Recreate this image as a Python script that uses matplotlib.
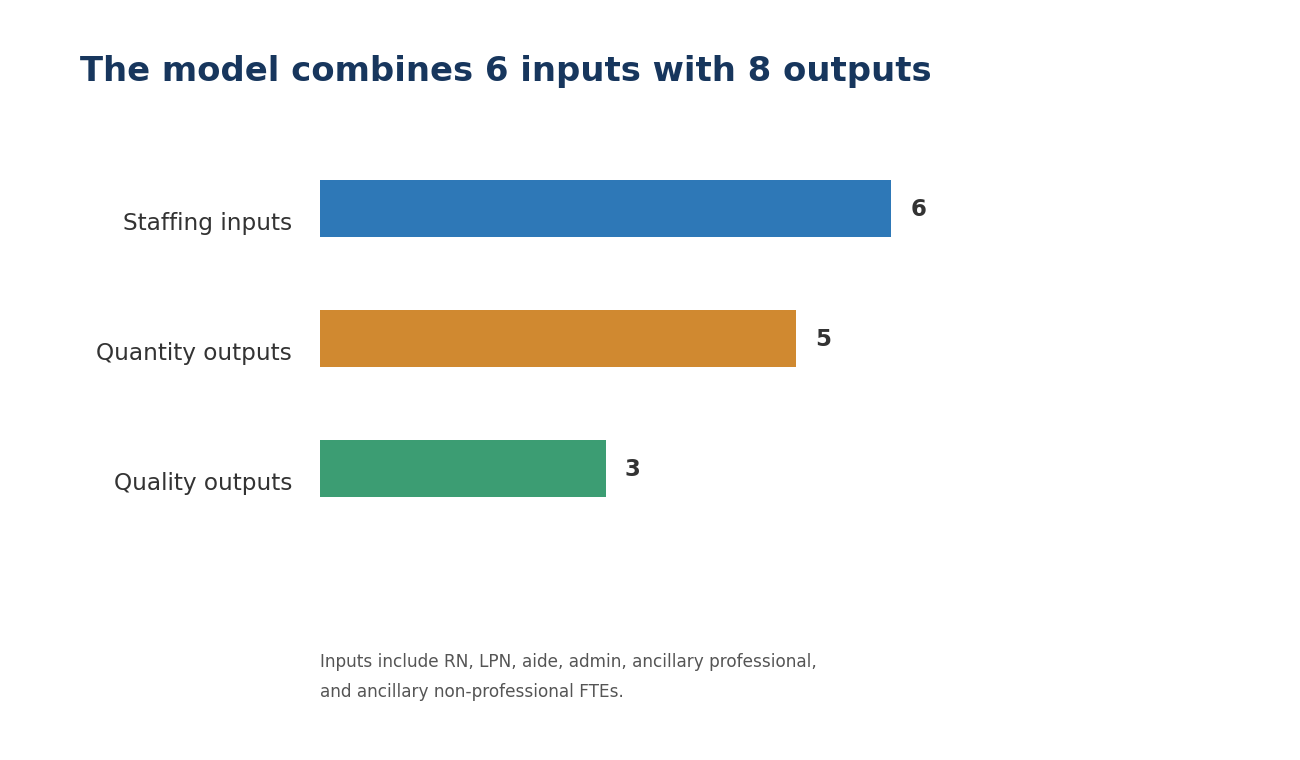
import matplotlib
matplotlib.use("Agg")
import matplotlib.pyplot as plt

plt.rcParams["font.family"] = ["DejaVu Sans"]

categories = ["Staffing inputs", "Quantity outputs", "Quality outputs"]
values = [6, 5, 3]
colors = ["#2E78B7", "#D08930", "#3C9D73"]
title = "The model combines 6 inputs with 8 outputs"
footnote_lines = ["Inputs include RN, LPN, aide, admin, ancillary professional,",
                  "and ancillary non-professional FTEs."]

W, H = 1300, 760
fig = plt.figure(figsize=(W / 100, H / 100), dpi=100)
fig.patch.set_facecolor("white")

left_px, right_px = 320, 1272
top_px, bot_px = 143.5, 533.5
ax = fig.add_axes([left_px / W, 1 - bot_px / H, (right_px - left_px) / W, (bot_px - top_px) / H])
ax.set_xlim(0, 10)
ax.set_ylim(2.5, -0.5)

ypos = list(range(len(categories)))
ax.barh(ypos, values, height=0.44, color=colors, edgecolor="none")

for y, v in zip(ypos, values):
    ax.annotate(str(v), xy=(v, y), xytext=(19, -1), textcoords="offset pixels",
                ha="left", va="center", fontsize=16.5, fontweight="bold", color="#333333")

for y, c in zip(ypos, categories):
    ax.annotate(c, xy=(0, y), xytext=(-28, -15), textcoords="offset pixels",
                ha="right", va="center", fontsize=16.7, color="#333333")

ax.axis("off")

fig.text(80 / W, 1 - 81.5 / H, title, ha="left", va="baseline", fontsize=24.4,
         fontweight="bold", color="#17365D")
for i, line in enumerate(footnote_lines):
    fig.text(320 / W, 1 - (667 + 30 * i) / H, line, ha="left", va="baseline",
             fontsize=12.2, color="#555555")

fig.savefig("out.png", dpi=100, facecolor="white")
